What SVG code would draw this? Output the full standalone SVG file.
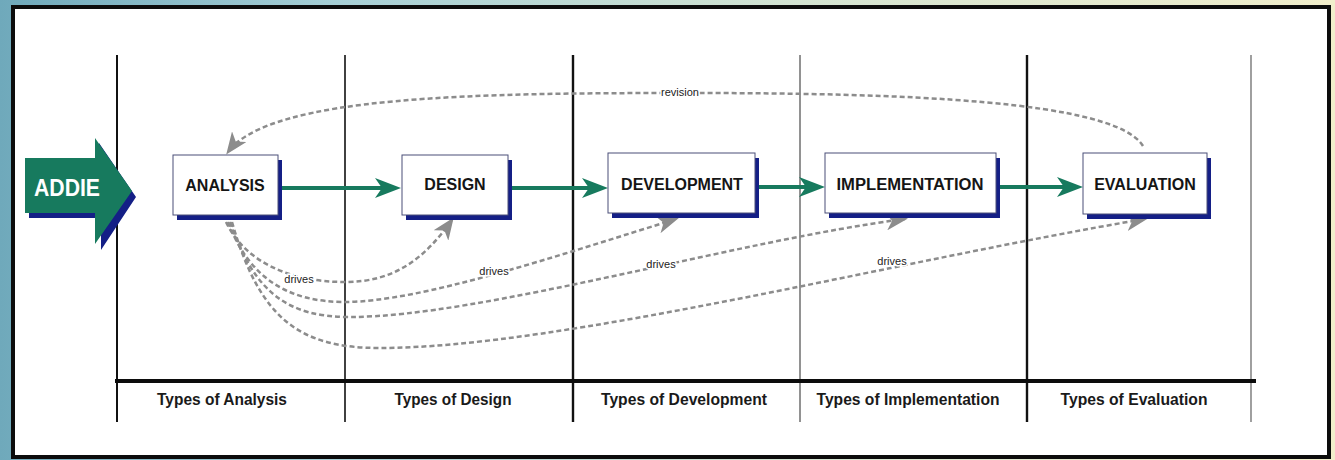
<svg xmlns="http://www.w3.org/2000/svg" width="1335" height="460" viewBox="0 0 1335 460">
  <defs>
    <linearGradient id="bg" x1="0" y1="0" x2="1" y2="0">
      <stop offset="0" stop-color="#6fa9bb"/>
      <stop offset="0.25" stop-color="#a6cfd6"/>
      <stop offset="0.6" stop-color="#d4e4d2"/>
      <stop offset="1" stop-color="#f1eecb"/>
    </linearGradient>
    <marker id="gh" markerUnits="userSpaceOnUse" markerWidth="26" markerHeight="20" viewBox="0 0 26 20" refX="18" refY="10" orient="auto">
      <path d="M0,0 L26,10 L0,20 L7,10 Z" fill="#177a5e"/>
    </marker>
    <marker id="dh" markerUnits="userSpaceOnUse" markerWidth="22" markerHeight="18" viewBox="0 0 22 18" refX="19" refY="9" orient="auto">
      <path d="M0,0 L22,9 L0,18 L6,9 Z" fill="#8c8c8c"/>
    </marker>
    <style>
      .box{fill:#ffffff;stroke:#4a4f78;stroke-width:1}
      .shd{fill:#141f86}
      .lbl{font-family:"Liberation Sans",Arial,sans-serif;font-weight:bold;font-size:16px;fill:#151515;text-anchor:middle}
      .col{font-family:"Liberation Sans",Arial,sans-serif;font-weight:bold;font-size:17px;fill:#1a1a1a;text-anchor:middle}
      .sm{font-family:"Liberation Sans",Arial,sans-serif;font-size:11px;fill:#222;text-anchor:middle;stroke:#fff;stroke-width:3px;paint-order:stroke}
      .flow{fill:none;stroke:#177a5e;stroke-width:4}
      .dash{fill:none;stroke:#8c8c8c;stroke-width:2.5;stroke-dasharray:5 3}
      .vl{stroke:#111;fill:none}
    </style>
  </defs>

  <!-- background and panel -->
  <rect x="0" y="0" width="1335" height="460" fill="url(#bg)"/>
  <rect x="13" y="7" width="1316" height="450" fill="#ffffff" stroke="#0c0c0c" stroke-width="4"/>

  <!-- swimlane grid -->
  <g id="grid">
    <line class="vl" x1="117" y1="55" x2="117" y2="422" stroke-width="2"/>
    <line class="vl" x1="345" y1="55" x2="345" y2="422" stroke-width="1.6"/>
    <line class="vl" x1="573" y1="55" x2="573" y2="422" stroke-width="2.4"/>
    <line x1="800" y1="55" x2="800" y2="422" stroke="#777" stroke-width="1.6"/>
    <line class="vl" x1="1027" y1="55" x2="1027" y2="422" stroke-width="2.4"/>
    <line x1="1251" y1="55" x2="1251" y2="422" stroke="#888" stroke-width="1.6"/>
    <line x1="115" y1="381" x2="1256" y2="381" stroke="#0c0c0c" stroke-width="4"/>
  </g>

  <!-- column labels -->
  <g id="columns">
    <text class="col" x="222" y="405" textLength="130" lengthAdjust="spacingAndGlyphs">Types of Analysis</text>
    <text class="col" x="453" y="405" textLength="117" lengthAdjust="spacingAndGlyphs">Types of Design</text>
    <text class="col" x="684" y="405" textLength="166" lengthAdjust="spacingAndGlyphs">Types of Development</text>
    <text class="col" x="908" y="405" textLength="183" lengthAdjust="spacingAndGlyphs">Types of Implementation</text>
    <text class="col" x="1134" y="405" textLength="147" lengthAdjust="spacingAndGlyphs">Types of Evaluation</text>
  </g>

  <!-- connectors -->
  <g id="connectors">
    <path class="flow" d="M281,188 L393,188" marker-end="url(#gh)"/>
    <path class="flow" d="M512,188 L600,188" marker-end="url(#gh)"/>
    <path class="flow" d="M759,187 L817,187" marker-end="url(#gh)"/>
    <path class="flow" d="M1000,187 L1075,187" marker-end="url(#gh)"/>

    <path class="dash" d="M1143,146 C1115,100 900,93 690,93 C480,93 270,95 228,152" marker-end="url(#dh)"/>
    <path class="dash" d="M226,222 C245,262 290,282 345,282 C395,282 425,258 452,220" marker-end="url(#dh)"/>
    <path class="dash" d="M228,222 C250,280 290,302 345,302 C420,302 560,255 676,219" marker-end="url(#dh)"/>
    <path class="dash" d="M230,222 C255,295 290,317 350,317 C480,317 740,240 905,219" marker-end="url(#dh)"/>
    <path class="dash" d="M232,222 C260,320 300,348 380,348 C560,348 900,260 1145,219" marker-end="url(#dh)"/>

    <text class="sm" x="680" y="96">revision</text>
    <text class="sm" x="299" y="283">drives</text>
    <text class="sm" x="494" y="275">drives</text>
    <text class="sm" x="661" y="268">drives</text>
    <text class="sm" x="892" y="265">drives</text>
  </g>

  <!-- ADDIE arrow -->
  <g id="addie">
    <path d="M29,163 L99,163 L99,143 L136,197 L101,250 L101,218 L29,218 Z" fill="#141f86"/>
    <path d="M25,158 L95,158 L95,138 L132,191 L95,244 L95,213 L25,213 Z" fill="#177a5e"/>
    <text x="67" y="196" font-family="'Liberation Sans',Arial,sans-serif" font-weight="bold" font-size="24" fill="#ffffff" text-anchor="middle" textLength="66" lengthAdjust="spacingAndGlyphs">ADDIE</text>
  </g>

  <g id="analysis">
    <rect class="shd" x="177" y="160" width="105" height="60"/>
    <rect class="box" x="173" y="155" width="105" height="60"/>
    <text class="lbl" x="225" y="191">ANALYSIS</text>
  </g>
  <g id="design">
    <rect class="shd" x="406" y="160" width="106" height="60"/>
    <rect class="box" x="402" y="155" width="106" height="60"/>
    <text class="lbl" x="455" y="190">DESIGN</text>
  </g>
  <g id="development">
    <rect class="shd" x="612" y="158" width="147" height="60"/>
    <rect class="box" x="608" y="153" width="147" height="60"/>
    <text class="lbl" x="682" y="190">DEVELOPMENT</text>
  </g>
  <g id="implementation">
    <rect class="shd" x="829" y="158" width="171" height="60"/>
    <rect class="box" x="825" y="153" width="171" height="60"/>
    <text class="lbl" x="910" y="190" textLength="147" lengthAdjust="spacingAndGlyphs">IMPLEMENTATION</text>
  </g>
  <g id="evaluation">
    <rect class="shd" x="1087" y="158" width="124" height="61"/>
    <rect class="box" x="1083" y="153" width="124" height="61"/>
    <text class="lbl" x="1145" y="190">EVALUATION</text>
  </g>
</svg>
